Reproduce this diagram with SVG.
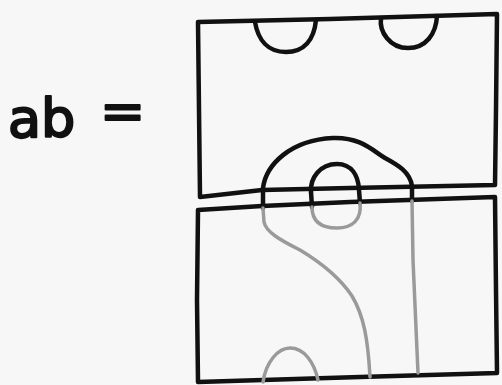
<svg xmlns="http://www.w3.org/2000/svg" width="502" height="385" viewBox="0 0 502 385">
<style>
.k{fill:none;stroke:#111;stroke-width:4.5;stroke-linecap:round;stroke-linejoin:round}
.g{fill:none;stroke:#9a9a9a;stroke-width:3.5;stroke-linecap:round;stroke-linejoin:round}
.t{font-family:"DejaVu Sans",sans-serif;font-size:54px;fill:#111;stroke:#111;stroke-width:2.2;stroke-linejoin:round}
</style>
<rect width="502" height="385" fill="#f7f7f7"/>
<g id="label"><text class="t" x="8" y="137">ab</text><text class="t" x="100" y="129" font-size="40">=</text></g>
<g id="top-box">
<path class="k" d="M198,22 L330,19 L497,14 L496,110 L495,185 L350,188 L262,190 L200,197 L199,110 Z"/>
<path class="k" d="M255,22 C258,40 268,52 286,52 C304,52 314,40 316,20"/>
<path class="k" d="M381,18 C379,32 390,48 408,48 C426,48 436,34 437,16"/>
<path class="k" d="M263,188 C266,165 290,140 333,138 C360,137 372,150 385,158 C398,165 410,172 412,186"/>
<path class="k" d="M311,192 C310,178 320,164 337,164 C352,164 358,176 359,189"/>
</g>
<g id="bottom-box">
<path class="k" d="M198,210 L262,206 L350,202 L495,197 L496,290 L497,373 L360,377 L198,382 L197,300 Z"/>
<path class="k" d="M263,190 L263,208 M311,192 L312,207 M359,190 L360,203 M412,187 L412,201"/>
<path class="g" d="M263,208 L264,222 C266,232 280,240 300,250 C320,262 340,278 352,296 C364,316 368,340 370,377"/>
<path class="g" d="M312,207 C312,222 322,228 337,228 C352,228 362,220 360,203"/>
<path class="g" d="M412,201 L413,260 L418,373"/>
<path class="g" d="M263,382 C266,362 278,348 290,348 C304,348 314,362 318,380"/>
</g>
</svg>
